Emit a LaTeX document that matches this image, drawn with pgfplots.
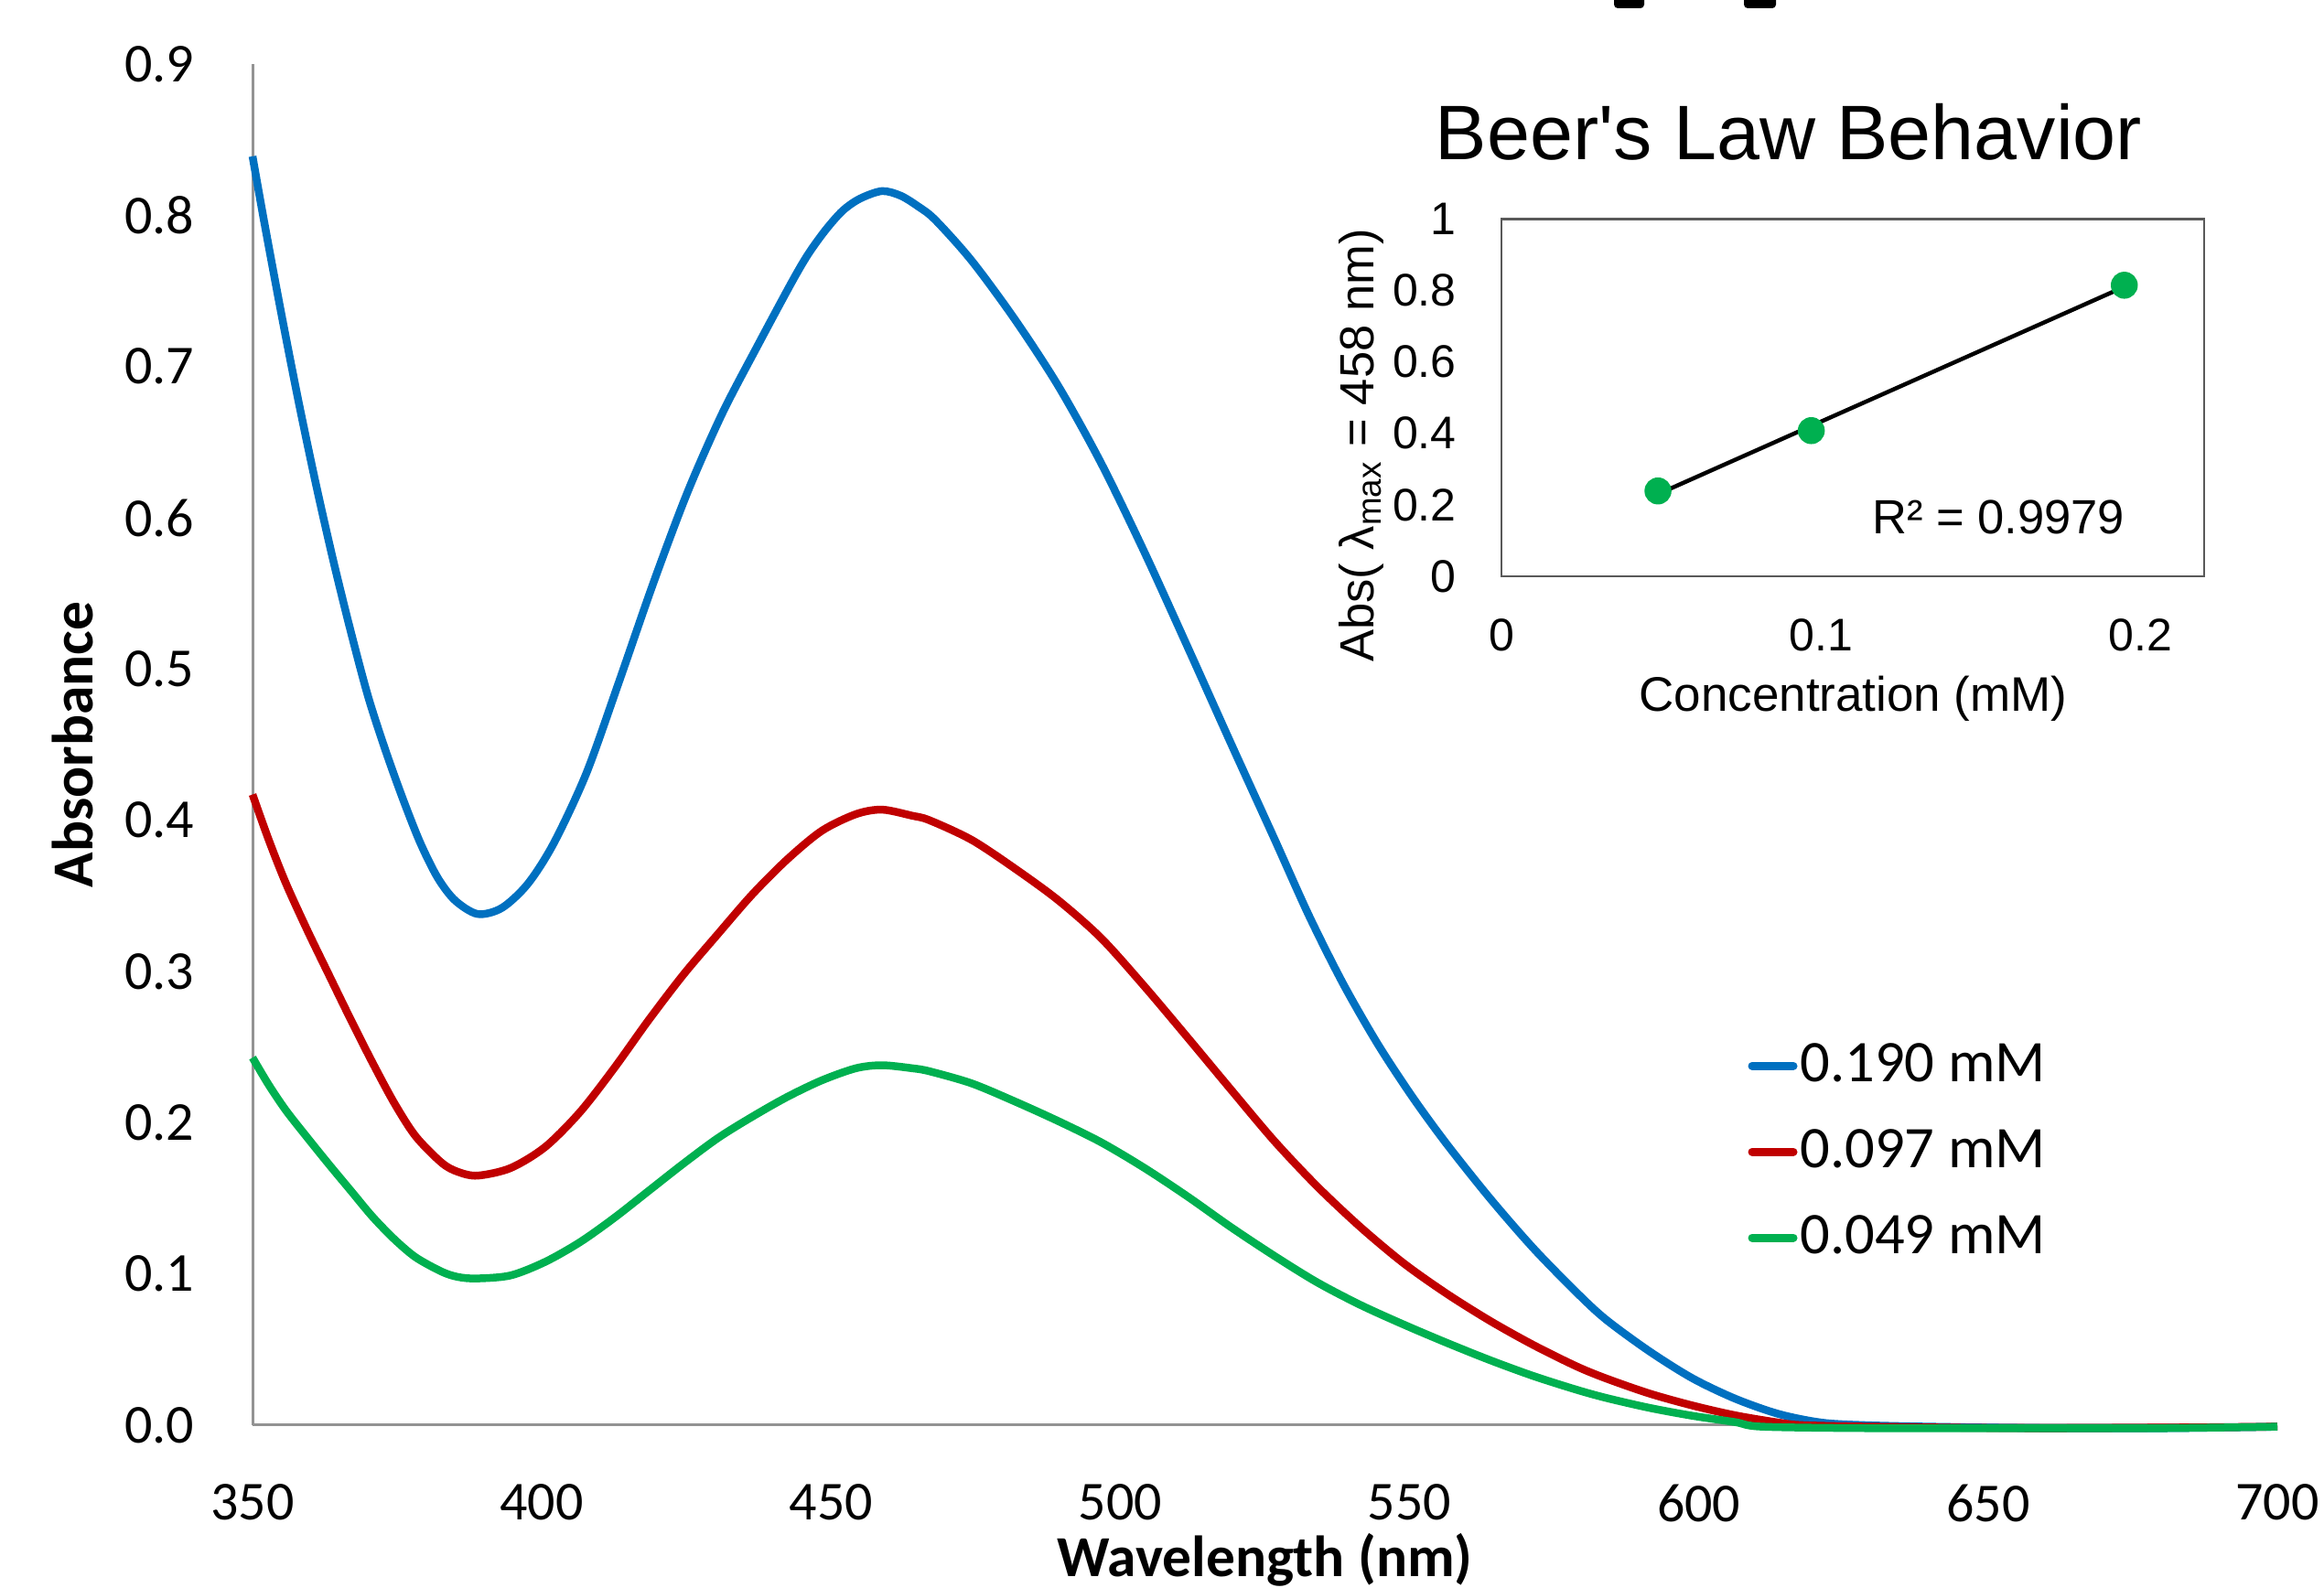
\documentclass[border=0pt]{standalone}
\usepackage{fontspec}
\setmainfont{Carlito}
\newfontfamily\arialf{Liberation Sans}[Ligatures=TeXOff]
\usepackage{pgfplots}
\usepackage{pgfplotstable}
\pgfplotsset{compat=1.18}
\definecolor{cblue}{HTML}{0070C0}
\definecolor{cred}{HTML}{C00000}
\definecolor{cgreen}{HTML}{00B050}

\pgfplotstableread{
wl A
350 0.839
352 0.796
355 0.7345
358 0.676
361 0.6215
364 0.571
367 0.5245
370 0.4815
373 0.446
376 0.414
379 0.385
382 0.362
385 0.347
388.9 0.338
393.1 0.342
397.6 0.358
402.1 0.385
407.7 0.431
413.3 0.491
419.3 0.557
425.2 0.617
431.2 0.669
437.2 0.713
443.1 0.755
446 0.774
449 0.790
452 0.803
455 0.811
458.8 0.816
462 0.813
465 0.806
468 0.797
474.3 0.770
481.8 0.731
489.3 0.687
496.7 0.636
504.2 0.577
511.7 0.514
519.1 0.451
526.6 0.388
532.6 0.337
538.5 0.292
544.5 0.252
550.5 0.217
556.4 0.186
563.9 0.150
571.4 0.117
578.8 0.088
583.9 0.070
591.4 0.049
598.9 0.031
606.3 0.0175
613.8 0.0074
621.2 0.0017
628.7 0.0
640 -0.001
660 -0.002
680 -0.002
700 -0.001
}\tblue

\pgfplotstableread{
wl A
350 0.417
352.8 0.387
355.8 0.358
359.5 0.327
363.3 0.297
367.0 0.268
370.7 0.240
374.5 0.213
378.2 0.191
382.7 0.1735
385.5 0.1675
388.9 0.165
394.6 0.170
400.6 0.184
406.6 0.207
412.5 0.236
418.5 0.268
424.5 0.298
430.5 0.325
436.4 0.351
442.4 0.374
448.4 0.393
454.3 0.404
458.8 0.407
464.0 0.403
467.0 0.400
474.3 0.387
481.8 0.368
489.3 0.347
496.7 0.322
504.2 0.290
511.7 0.256
519.1 0.222
526.6 0.188
534.0 0.158
541.5 0.131
549.0 0.107
556.4 0.087
563.9 0.069
571.4 0.053
578.8 0.039
583.9 0.031
591.4 0.021
598.9 0.013
606.3 0.0065
613.8 0.0017
618 0.0
630 -0.001
660 -0.002
700 -0.001
}\tred

\pgfplotstableread{
wl A
350 0.243
352.8 0.225
355.8 0.208
359.5 0.190
363.3 0.172
367.0 0.155
370.7 0.138
374.5 0.123
378.2 0.111
382.7 0.1015
385.5 0.098
388.7 0.097
394.6 0.099
400.6 0.108
406.6 0.121
412.5 0.137
418.5 0.155
424.5 0.173
430.5 0.190
436.4 0.204
442.4 0.217
448.4 0.228
454.3 0.236
458.8 0.238
464.0 0.236
467.0 0.234
474.3 0.226
481.8 0.214
489.3 0.201
496.7 0.187
504.2 0.170
511.7 0.151
519.1 0.131
526.6 0.112
534.0 0.0945
541.5 0.0795
549.0 0.0665
556.4 0.0545
563.9 0.043
571.4 0.0325
578.8 0.0235
584 0.018
591.4 0.0115
598.9 0.0062
606.3 0.002
611 -0.001
630 -0.002
660 -0.002
680 -0.002
700 -0.001
}\tgreen

\begin{document}
\begin{tikzpicture}
\useasboundingbox (0,0) rectangle (508pt,347.2pt);
% cut-off fragments of a title above the chart
\fill[rounded corners=0.8pt] (352.8pt,345.4pt) rectangle (359.4pt,349pt);
\fill[rounded corners=0.8pt] (381.2pt,345.4pt) rectangle (388.2pt,349pt);

\begin{axis}[
  at={(55.2pt,35.6pt)}, anchor=south west,
  scale only axis, width=442.6pt, height=297.6pt,
  xmin=350, xmax=700, ymin=0, ymax=0.9,
  clip=false,
  axis lines*=left,
  axis line style={draw=gray!85, line width=0.6pt},
  xtick={350,400,...,700},
  ytick={0,0.1,0.2,0.3,0.4,0.5,0.6,0.7,0.8,0.9},
  major tick length=0pt,
  /pgf/number format/assume math mode=true,
  tick label style={font=\fontsize{12}{14}\selectfont},
  yticklabel style={anchor=east, inner sep=0pt, xshift=-12.6pt,
     /pgf/number format/.cd, fixed, fixed zerofill, precision=1},
  xticklabel style={anchor=north, inner sep=0pt, yshift=-12.7pt},
  xlabel={Wavelength (nm)},
  ylabel={Absorbance},
  xlabel style={at={([yshift=-33.1pt]rel axis cs:0.5,0)}, anchor=base, font=\bfseries\fontsize{12.7}{15}\selectfont},
  ylabel style={at={([xshift=-39.4pt]rel axis cs:0,0.5)}, anchor=center, font=\bfseries\fontsize{12.7}{15}\selectfont},
  legend image code/.code={\draw[#1, line width=1.8pt, line cap=round] (0pt,0pt) -- (9pt,0pt);},
  legend cell align=left,
  legend style={at={(rel axis cs:0.7386,0.2805)}, anchor=north west,
     draw=none, fill=none, inner sep=0pt, outer sep=0pt,
     row sep=8.9pt, column sep=0.6pt,
     nodes={inner sep=0pt},
     font=\fontsize{12.9}{15}\selectfont},
]
\addplot[cblue, line width=1.7pt, smooth, no marks] table[x=wl,y=A] {\tblue};
\addlegendentry{0.190 mM}
\addplot[cred, line width=1.7pt, smooth, no marks] table[x=wl,y=A] {\tred};
\addlegendentry{0.097 mM}
\addplot[cgreen, line width=1.7pt, smooth, no marks] table[x=wl,y=A] {\tgreen};
\addlegendentry{0.049 mM}
\end{axis}

\begin{axis}[
  at={(328.2pt,221.2pt)}, anchor=south west,
  scale only axis, width=153.6pt, height=78.1pt,
  xmin=0, xmax=0.22, ymin=0, ymax=1,
  axis line style={draw=gray!70!black, line width=0.5pt},
  xtick={0,0.1,0.2},
  ytick={0,0.2,0.4,0.6,0.8,1},
  major tick length=0pt,
  /pgf/number format/assume math mode=true,
  tick label style={font=\arialf\fontsize{10}{12}\selectfont},
  yticklabel style={anchor=east, inner sep=0pt, xshift=-9.7pt},
  xticklabel style={anchor=north, inner sep=0pt, yshift=-9.2pt},
]
\addplot[only marks, mark=*, mark size=2.75pt, mark options={draw=cgreen, fill=cgreen}] coordinates {(0.049,0.2388) (0.097,0.4077) (0.195,0.8147)};
\addplot[black, line width=0.9pt, no marks] coordinates {(0.049,0.2300) (0.195,0.8104)};
\node[anchor=base east, font=\arialf\fontsize{10.5}{12}\selectfont, inner sep=0pt] at (axis cs:0.1954,0.12) {R² = 0.9979};
\end{axis}

\node[anchor=base, font=\arialf\fontsize{16.9}{20}\selectfont, inner sep=0pt] at (391pt,312.2pt) {Beer's Law Behavior};
\node[rotate=90, anchor=base, font=\arialf\fontsize{10.5}{12}\selectfont, inner sep=0pt] at (300.2pt,249.8pt) {Abs( λ\textsubscript{max} = 458 nm)};
\node[anchor=base, font=\arialf\fontsize{10.6}{12}\selectfont, inner sep=0pt] at (405.1pt,191.6pt) {Concentration (mM)};
\end{tikzpicture}
\end{document}
